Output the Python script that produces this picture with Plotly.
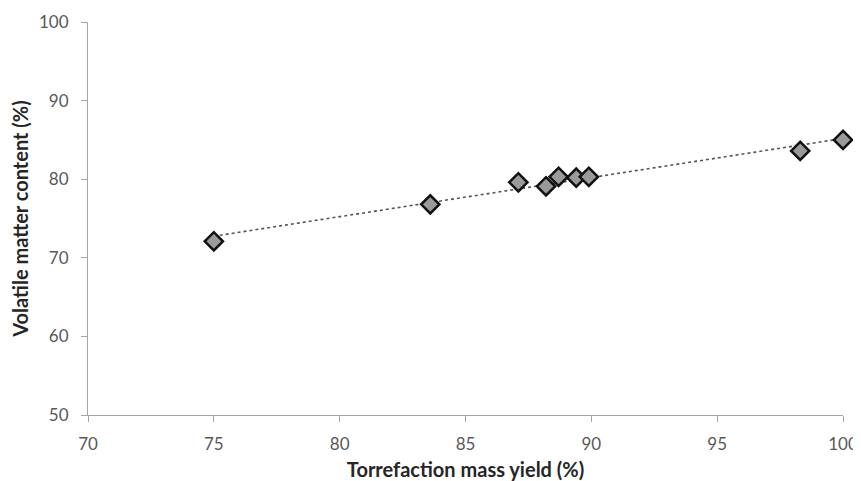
import numpy as np
import plotly.graph_objects as go

# Data
mass_yield = [75.0, 83.6, 87.1, 88.2, 88.7, 89.4, 89.9, 98.3, 100.0]
volatile_matter = [72.1, 76.8, 79.6, 79.1, 80.3, 80.2, 80.3, 83.6, 85.0]

x_ticks = [70, 75, 80, 85, 90, 95, 100]
y_ticks = [50, 60, 70, 80, 90, 100]

# Linear trendline from the data
coef = np.polyfit(mass_yield, volatile_matter, 1)
trend_x = [min(mass_yield), max(mass_yield)]
trend_y = [coef[0] * v + coef[1] for v in trend_x]

fig = go.Figure()
fig.add_trace(go.Scatter(
    x=trend_x, y=trend_y, mode="lines",
    line=dict(color="#555555", width=1.6, dash="dot"),
    hoverinfo="skip", showlegend=False, cliponaxis=False,
))
fig.add_trace(go.Scatter(
    x=mass_yield, y=volatile_matter, mode="markers",
    marker=dict(symbol="diamond", size=14, color="#9a9a9a",
                line=dict(color="#111111", width=2.5)),
    showlegend=False, cliponaxis=False,
))

font_family = "Lato, 'Open Sans', 'Liberation Sans', sans-serif"
# page body has an 8px default margin, so the figure is sized to fit the window
fig.update_layout(
    width=853, height=473,
    margin=dict(l=80, r=18, t=14, b=66),
    paper_bgcolor="white", plot_bgcolor="white",
    font=dict(family=font_family, size=17, color="#595959"),
)
fig.update_xaxes(
    range=[70, 100], tickvals=x_ticks, ticktext=[str(v) for v in x_ticks],
    showgrid=False, zeroline=False, automargin=False,
    showline=True, linecolor="#a6a6a6", linewidth=1,
    ticks="outside", ticklen=6, tickcolor="#a6a6a6", ticklabelstandoff=8,
    title=dict(text="<b>Torrefaction mass yield (%)</b>", standoff=17,
               font=dict(size=20, color="#262626")),
)
fig.update_yaxes(
    range=[50, 100], tickvals=y_ticks, ticktext=[str(v) for v in y_ticks],
    showgrid=False, zeroline=False, automargin=False,
    showline=True, linecolor="#a6a6a6", linewidth=1,
    ticks="outside", ticklen=6, tickcolor="#a6a6a6", ticklabelstandoff=9,
    title=dict(text="<b>Volatile matter content (%)</b>", standoff=11,
               font=dict(size=20, color="#262626")),
)

fig.write_html("out.html")
